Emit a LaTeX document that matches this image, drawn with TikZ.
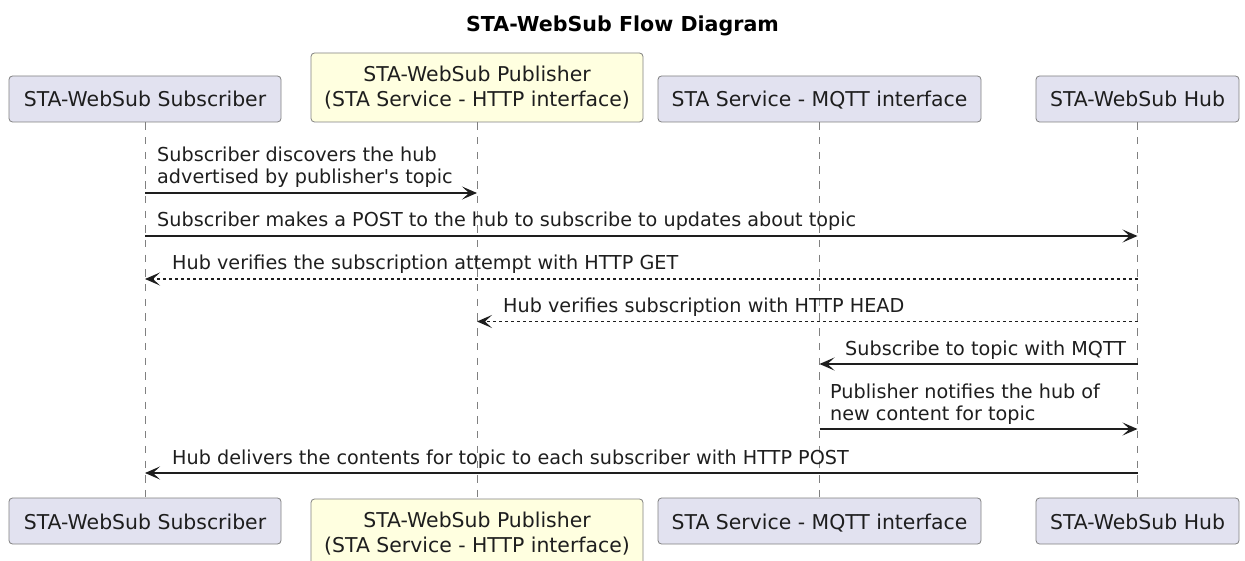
\documentclass[tikz,border=0pt]{standalone}
\usepackage{fontspec}
\setmainfont{DejaVu Sans}[Ligatures=TeXOff]
\usetikzlibrary{arrows.meta}
\definecolor{partfill}{HTML}{E2E2F0}
\definecolor{pubfill}{HTML}{FFFFE0}
\definecolor{edge}{HTML}{808080}
\definecolor{ink}{HTML}{1E1E1E}
\begin{document}
\begin{tikzpicture}[x=1pt,y=-1pt,
  part/.style={draw=edge, line width=0.8pt, fill=partfill, rounded corners=3.5pt,
    minimum width=#1, minimum height=46pt, inner sep=0pt, text=ink,
    font=\fontsize{20.4pt}{25pt}\selectfont, text height=16pt, text depth=0pt},
  pubpart/.style={part=332pt, fill=pubfill, minimum height=69pt,
    text height=, text depth=, align=center},
  lifeline/.style={draw=edge, line width=0.9pt, dash pattern=on 7.35pt off 7.35pt},
  msg/.style={draw=ink, line width=1.4pt, -{Stealth[length=15pt,width=13pt,inset=7pt]}},
  reply/.style={msg, dash pattern=on 3pt off 3pt},
  msgtxt/.style={anchor=base west, inner sep=0pt, text=ink, align=left,
    font=\fontsize{19.2pt}{22pt}\selectfont},
  titletxt/.style={anchor=base, inner sep=0pt, text=black,
    font=\fontsize{20.6pt}{24pt}\selectfont\bfseries}]

\useasboundingbox (0,0) rectangle (1245,561);

% title
\node[titletxt] (title) at (622.5,32) {STA-WebSub Flow Diagram};

% participants, top row
\node[part=272pt] (subT) at (145,99) {STA-WebSub Subscriber};
\node[pubpart] (pubT) at (477,87.5) {STA-WebSub Publisher\\(STA Service - HTTP interface)};
\node[part=323pt] (mqT) at (819.5,99) {STA Service - MQTT interface};
\node[part=203pt] (hubT) at (1137.5,99) {STA-WebSub Hub};

% participants, bottom row
\node[part=272pt] (subB) at (145,521) {STA-WebSub Subscriber};
\node[pubpart] (pubB) at (477,533.5) {STA-WebSub Publisher\\(STA Service - HTTP interface)};
\node[part=323pt] (mqB) at (819.5,521) {STA Service - MQTT interface};
\node[part=203pt] (hubB) at (1137.5,521) {STA-WebSub Hub};

% lifelines
\draw[lifeline] (subT) -- (subB);
\draw[lifeline] (pubT) -- (pubB);
\draw[lifeline] (mqT) -- (mqB);
\draw[lifeline] (hubT) -- (hubB);

% messages (base anchor of a two-line label sits on its last line)
\node[msgtxt] (m1) at (157,184) {Subscriber discovers the hub\\advertised by publisher's topic};
\draw[msg] (subT |- 0,193) -- (pubT |- 0,193);

\node[msgtxt] (m2) at (157,227) {Subscriber makes a POST to the hub to subscribe to updates about topic};
\draw[msg] (subT |- 0,236) -- (hubT |- 0,236);

\node[msgtxt] (m3) at (172,270) {Hub verifies the subscription attempt with HTTP GET};
\draw[reply] (hubT |- 0,279) -- (subT |- 0,279);

\node[msgtxt] (m4) at (503,312.5) {Hub verifies subscription with HTTP HEAD};
\draw[reply] (hubT |- 0,321.5) -- (pubT |- 0,321.5);

\node[msgtxt] (m5) at (845,355.5) {Subscribe to topic with MQTT};
\draw[msg] (hubT |- 0,364) -- (mqT |- 0,364);

\node[msgtxt] (m6) at (830,420.5) {Publisher notifies the hub of\\new content for topic};
\draw[msg] (mqT |- 0,429) -- (hubT |- 0,429);

\node[msgtxt] (m7) at (172,464.5) {Hub delivers the contents for topic to each subscriber with HTTP POST};
\draw[msg] (hubT |- 0,473) -- (subT |- 0,473);

\end{tikzpicture}
\end{document}
